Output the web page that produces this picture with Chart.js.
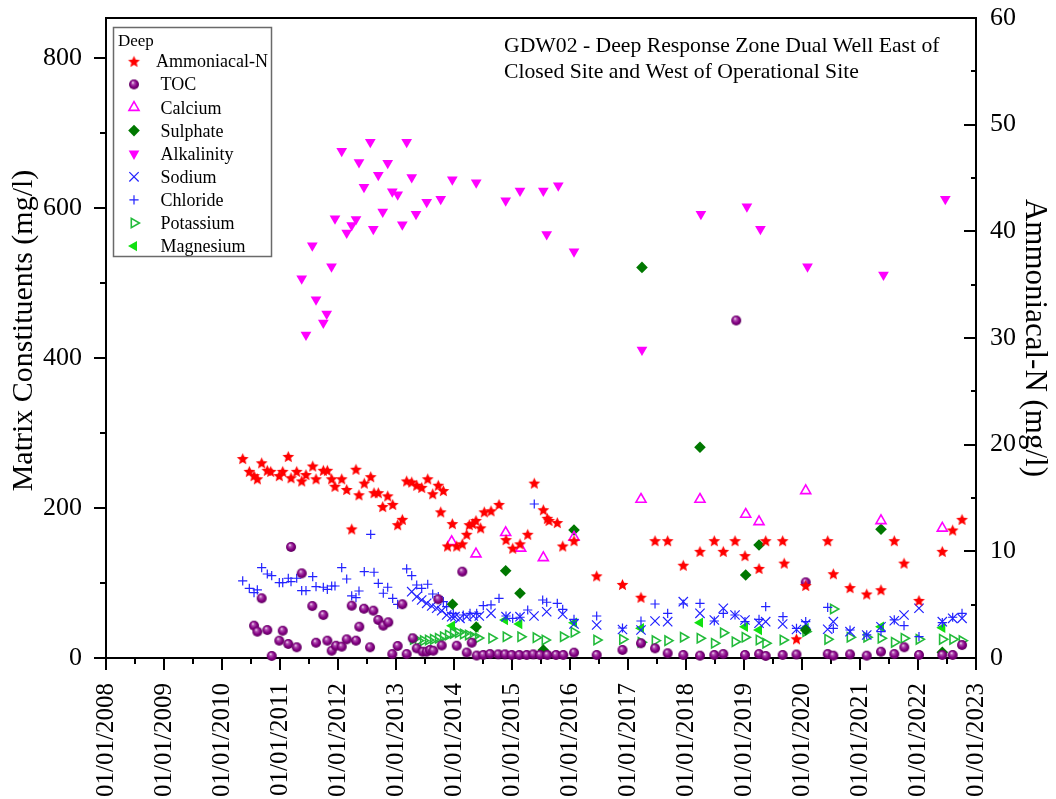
<!DOCTYPE html>
<html>
<head>
<meta charset="utf-8">
<script src="https://cdn.jsdelivr.net/npm/chart.js@4.4.1/dist/chart.umd.min.js"></script>
<style>
  html, body { margin: 0; padding: 0; background: #fff; }
  canvas { display: block; }
</style>
</head>
<body>
<canvas id="chart" width="1056" height="799"></canvas>
<script>
const SERIF = "'Liberation Serif', 'Times New Roman', Times, serif";

// Sampling dates are decimal years; concentrations in mg/l.
const ammoniaDates = [
  2010.357, 2010.471, 2010.552, 2010.609, 2010.684, 2010.781, 2010.840, 2010.988, 2011.047, 2011.143,
  2011.190, 2011.288, 2011.374, 2011.448, 2011.564, 2011.621, 2011.747, 2011.816, 2011.891, 2011.948,
  2012.064, 2012.150, 2012.236, 2012.310, 2012.362, 2012.453, 2012.564, 2012.621, 2012.695, 2012.771,
  2012.857, 2012.943, 2013.029, 2013.109, 2013.184, 2013.271, 2013.357, 2013.443, 2013.547, 2013.633,
  2013.729, 2013.771, 2013.816, 2013.888, 2013.971, 2014.047, 2014.143, 2014.219, 2014.264, 2014.322,
  2014.379, 2014.460, 2014.522, 2014.638, 2014.776, 2014.897, 2015.012, 2015.138, 2015.271, 2015.384,
  2015.540, 2015.609, 2015.638, 2015.781, 2015.874, 2016.069, 2016.460, 2016.905, 2017.224, 2017.466,
  2017.684, 2017.953, 2018.241, 2018.488, 2018.643, 2018.845, 2019.017, 2019.259, 2019.374, 2019.667,
  2019.693, 2019.905, 2020.064, 2020.443, 2020.540, 2020.828, 2021.116, 2021.362, 2021.591, 2021.759,
  2022.017, 2022.419, 2022.598, 2022.759
];
const ammoniaValues = [
  18.7, 17.5, 17.1, 16.8, 18.3, 17.6, 17.5, 17.1, 17.5, 18.9,
  16.9, 17.5, 16.6, 17.2, 18.0, 16.8, 17.6, 17.6, 16.8, 16.1,
  16.8, 15.8, 12.1, 17.7, 15.3, 16.4, 17.0, 15.5, 15.5, 14.2,
  15.2, 14.4, 12.5, 13.0, 16.6, 16.5, 16.2, 16.0, 16.8, 15.4,
  16.2, 13.7, 15.7, 10.5, 12.6, 10.5, 10.7, 11.6, 12.5, 12.6,
  12.9, 12.2, 13.7, 13.8, 14.4, 11.1, 10.3, 10.7, 11.6, 16.4,
  13.9, 13.1, 12.9, 12.7, 10.5, 11.0, 7.7, 6.9, 5.7, 11.0,
  11.0, 8.7, 10.0, 11.0, 10.0, 11.0, 9.6, 8.4, 11.0, 11.0,
  8.9, 1.8, 6.8, 11.0, 7.9, 6.6, 6.0, 6.4, 11.0, 8.9,
  5.4, 10.0, 12.0, 13.0
];

const tocDates = [
  2010.552, 2010.609, 2010.684, 2010.781, 2010.857, 2010.988, 2011.047, 2011.143, 2011.190, 2011.288,
  2011.374, 2011.557, 2011.621, 2011.747, 2011.816, 2011.891, 2011.966, 2012.064, 2012.150, 2012.236,
  2012.310, 2012.367, 2012.448, 2012.552, 2012.609, 2012.695, 2012.781, 2012.867, 2012.936, 2013.029,
  2013.109, 2013.184, 2013.288, 2013.357, 2013.460, 2013.529, 2013.586, 2013.643, 2013.729, 2013.788,
  2014.047, 2014.143, 2014.219, 2014.305, 2014.391, 2014.505, 2014.621, 2014.764, 2014.879, 2014.995,
  2015.126, 2015.253, 2015.367, 2015.483, 2015.609, 2015.759, 2015.884, 2016.069, 2016.460, 2016.905,
  2017.224, 2017.466, 2017.684, 2017.953, 2018.241, 2018.488, 2018.643, 2018.866, 2019.017, 2019.259,
  2019.374, 2019.667, 2019.905, 2020.064, 2020.443, 2020.540, 2020.828, 2021.116, 2021.362, 2021.591,
  2021.764, 2022.017, 2022.419, 2022.598, 2022.759
];
const tocValues = [
  43.1, 35.1, 79.6, 37.3, 2.7, 23.1, 36.4, 18.7, 148, 14.3,
  112.9, 69.3, 20.4, 57.3, 23.1, 9.7, 16.4, 15.1, 24.9, 69.7,
  23.1, 41.7, 65.7, 14.3, 63.1, 50.7, 43.1, 47.6, 5.3, 16.0,
  71.6, 5.3, 26.3, 12.9, 8.4, 8.4, 10.7, 9.7, 78.3, 16.7,
  16.4, 115.1, 7.3, 20.4, 3.3, 4.0, 5.3, 4.9, 4.9, 4.0,
  4.0, 4.0, 4.9, 4.0, 4.0, 4.0, 4.0, 7.1, 4.0, 10.7,
  19.6, 12.9, 6.3, 4.0, 3.1, 4.0, 5.3, 450, 4.0, 5.3,
  2.7, 4.0, 4.7, 100.9, 5.3, 3.1, 4.9, 3.1, 8.4, 5.3,
  14.3, 4.0, 4.0, 4.0, 17.3
];

const calciumDates = [
  2013.960, 2014.379, 2014.891, 2015.150, 2015.540, 2016.069, 2017.224, 2018.241, 2019.029, 2019.259,
  2020.064, 2021.362, 2022.419
];
const calciumValues = [
  155.1, 138.7, 167.1, 146.3, 133.7, 160.9, 211.6, 211.6, 191.6, 181.7,
  223, 183, 173
];

const sulphateDates = [
  2013.974, 2014.383, 2014.891, 2015.138, 2015.540, 2016.069, 2017.241, 2018.241, 2019.029, 2019.259,
  2020.064, 2021.362, 2022.419
];
const sulphateValues = [
  71.6, 41.3, 116.4, 86.3, 10.7, 170.7, 520.8, 280.9, 110.7, 150.7,
  37.3, 171.6, 7.6
];

const alkalinityDates = [
  2011.374, 2011.448, 2011.557, 2011.621, 2011.747, 2011.805, 2011.888, 2011.948, 2012.064, 2012.150,
  2012.236, 2012.310, 2012.362, 2012.448, 2012.557, 2012.609, 2012.695, 2012.771, 2012.857, 2012.936,
  2013.029, 2013.109, 2013.184, 2013.271, 2013.345, 2013.529, 2013.771, 2013.971, 2014.383, 2014.891,
  2015.138, 2015.540, 2015.598, 2015.798, 2016.069, 2017.241, 2018.257, 2019.050, 2019.283, 2020.095,
  2021.405, 2022.471
];
const alkalinityValues = [
  506, 431, 550, 478, 447, 459, 522, 586, 676, 567,
  577, 585, 661, 628, 688, 572, 644, 595, 660, 622,
  618, 578, 688, 641, 592, 608, 612, 638, 634, 610,
  623, 623, 565, 630, 542, 411, 592, 602, 572, 522,
  511, 612
];

const sodiumDates = [
  2013.271, 2013.357, 2013.443, 2013.529, 2013.616, 2013.702, 2013.788, 2013.874, 2013.960, 2014.017,
  2014.103, 2014.219, 2014.333, 2014.436, 2014.638, 2014.897, 2015.138, 2015.379, 2015.598, 2015.874,
  2016.069, 2016.460, 2016.905, 2017.224, 2017.466, 2017.684, 2017.953, 2018.241, 2018.488, 2018.643,
  2018.845, 2019.017, 2019.259, 2019.374, 2019.667, 2019.905, 2020.064, 2020.443, 2020.540, 2020.828,
  2021.116, 2021.362, 2021.591, 2021.759, 2022.017, 2022.419, 2022.598, 2022.759
];
const sodiumValues = [
  88.4, 81.7, 77.3, 72.9, 69.3, 66.3, 63.1, 57.3, 55.1, 55.1,
  52.9, 55.1, 56, 56, 59.6, 55.1, 55.1, 56, 61.7, 58.3,
  45.3, 44, 38, 37.3, 49.3, 48.4, 75.1, 59.6, 50.7, 66.3,
  57.3, 50.7, 46.3, 48.4, 45.3, 38, 45.3, 38.3, 48.4, 35.1,
  30.7, 41.7, 49.7, 57.3, 66.3, 48.4, 52.9, 52.9
];

const chlorideDates = [
  2010.357, 2010.471, 2010.552, 2010.609, 2010.684, 2010.781, 2010.857, 2010.988, 2011.047, 2011.143,
  2011.190, 2011.288, 2011.374, 2011.448, 2011.564, 2011.621, 2011.747, 2011.816, 2011.891, 2011.948,
  2012.064, 2012.150, 2012.236, 2012.310, 2012.362, 2012.453, 2012.564, 2012.621, 2012.695, 2012.781,
  2012.857, 2012.943, 2013.029, 2013.109, 2013.184, 2013.271, 2013.357, 2013.443, 2013.547, 2013.633,
  2013.729, 2013.816, 2013.874, 2013.988, 2014.160, 2014.276, 2014.391, 2014.505, 2014.638, 2014.776,
  2014.897, 2015.012, 2015.138, 2015.271, 2015.384, 2015.529, 2015.598, 2015.781, 2015.874, 2016.069,
  2016.460, 2016.905, 2017.224, 2017.466, 2017.684, 2017.953, 2018.241, 2018.488, 2018.643, 2018.845,
  2019.017, 2019.259, 2019.374, 2019.672, 2019.905, 2020.064, 2020.443, 2020.540, 2020.828, 2021.116,
  2021.362, 2021.591, 2021.759, 2022.017, 2022.419, 2022.598, 2022.759
];
const chlorideValues = [
  102.7, 92.9, 87.1, 90.7, 120.4, 112, 109.7, 100.4, 100.4, 106.3,
  101.7, 106.3, 89.7, 89.7, 108.4, 95.1, 94.3, 91.6, 96, 96,
  120.4, 105.3, 82.7, 80.4, 89.3, 115.1, 164.9, 114.3, 99.6, 86.3,
  94.3, 79.6, 71.6, 71.6, 118.7, 109.7, 97.3, 92.9, 98.3, 85.3,
  81.7, 75.1, 68.4, 59.6, 57.3, 59.6, 59.6, 69.7, 70.7, 79.6,
  56, 52.9, 54.3, 64, 205.3, 77.3, 74.3, 72.9, 64.9, 51.6,
  56, 40, 49.3, 72, 59.6, 72, 72.9, 49.3, 59.6, 57.3,
  48.4, 51.6, 68.4, 55.1, 39.6, 48.4, 67.6, 39.6, 37.3, 30.7,
  35.1, 50.7, 43.1, 28.4, 47.1, 54.3, 59.6
];

const potassiumDates = [
  2013.298, 2013.384, 2013.471, 2013.557, 2013.643, 2013.729, 2013.816, 2013.902, 2013.988, 2014.074,
  2014.160, 2014.247, 2014.333, 2014.419, 2014.650, 2014.897, 2015.150, 2015.414, 2015.569, 2015.884,
  2016.069, 2016.460, 2016.905, 2017.224, 2017.466, 2017.684, 2017.953, 2018.241, 2018.488, 2018.643,
  2018.845, 2019.017, 2019.259, 2019.374, 2019.672, 2020.064, 2020.443, 2020.540, 2020.828, 2021.116,
  2021.362, 2021.591, 2021.759, 2022.017, 2022.419, 2022.598, 2022.759
];
const potassiumValues = [
  24.9, 23.1, 23.1, 24, 24.9, 26.3, 28.4, 30.7, 32.9, 33.7,
  32, 30.7, 28.4, 26.7, 26.3, 28.4, 28.4, 27.1, 24, 28.4,
  34.3, 24, 24.9, 20.9, 23.1, 23.1, 27.6, 26.3, 19.6, 33.7,
  21.7, 27.6, 24, 19.6, 24, 35.1, 24.9, 65.3, 27.6, 27.6,
  26.3, 20.9, 26.3, 24.9, 24.9, 24.9, 23.1
];

const magnesiumDates = [
  2013.966, 2014.371, 2014.879, 2015.126, 2016.069, 2017.224, 2018.241, 2019.017, 2019.259, 2020.064,
  2021.362, 2022.419
];
const magnesiumValues = [
  43.1, 40.7, 50.7, 45.3, 47.1, 39.6, 47.1, 41.7, 37.3, 40,
  41.7, 40.4
];

// Axis ranges and tick labels
const tickYears = [2008, 2009, 2010, 2011, 2012, 2013, 2014, 2015, 2016, 2017, 2018, 2019, 2020, 2021, 2022, 2023];
const leftTicks = [0, 200, 400, 600, 800];
const rightTicks = [0, 10, 20, 30, 40, 50, 60];
const leftMax = 853.33;
const rightMax = 60;

const titleLines = [
  'GDW02 - Deep Response Zone Dual Well East of',
  'Closed Site and West of Operational Site'
];

function pts(dates, values) {
  const n = Math.min(dates.length, values.length);
  const out = [];
  for (let i = 0; i < n; i++) out.push({ x: dates[i], y: values[i] });
  return out;
}

// Filled five-point star marker
function makeStar(R, color) {
  const s = Math.ceil(2 * R + 2);
  const c = document.createElement('canvas');
  c.width = c.height = s;
  const g = c.getContext('2d');
  const cx = s / 2, cy = s / 2 + R * 0.1;
  const r = R * 0.45;
  g.beginPath();
  for (let k = 0; k < 10; k++) {
    const rad = (k % 2 === 0) ? R : r;
    const a = -Math.PI / 2 + k * Math.PI / 5;
    const px = cx + rad * Math.cos(a), py = cy + rad * Math.sin(a);
    if (k === 0) g.moveTo(px, py); else g.lineTo(px, py);
  }
  g.closePath();
  g.fillStyle = color;
  g.fill();
  return c;
}

// Shaded ball marker
function makeSphere(R) {
  const s = Math.ceil(2 * R + 2);
  const c = document.createElement('canvas');
  c.width = c.height = s;
  const g = c.getContext('2d');
  const cx = s / 2, cy = s / 2;
  const grad = g.createRadialGradient(cx - R * 0.25, cy - R * 0.4, R * 0.05, cx, cy, R);
  grad.addColorStop(0, '#f4dcf4');
  grad.addColorStop(0.25, '#b050b0');
  grad.addColorStop(0.65, '#850085');
  grad.addColorStop(1, '#5c005c');
  g.fillStyle = grad;
  g.beginPath();
  g.arc(cx, cy, R, 0, Math.PI * 2);
  g.fill();
  return c;
}

const starImg = makeStar(6.2, '#ff0000');
const sphereImg = makeSphere(5);

const CLEAR = 'rgba(255,255,255,0)';

const datasets = [
  { label: 'Ammoniacal-N', data: pts(ammoniaDates, ammoniaValues), yAxisID: 'y2',
    pointStyle: starImg, pointRadius: 6, pointBackgroundColor: '#ff0000', pointBorderColor: '#ff0000', pointBorderWidth: 0 },
  { label: 'TOC', data: pts(tocDates, tocValues), yAxisID: 'y',
    pointStyle: sphereImg, pointRadius: 5, pointBackgroundColor: '#800080', pointBorderColor: '#800080', pointBorderWidth: 0 },
  { label: 'Calcium', data: pts(calciumDates, calciumValues), yAxisID: 'y',
    pointStyle: 'triangle', pointRadius: 5.8, pointBackgroundColor: CLEAR, pointBorderColor: '#ff00ff', pointBorderWidth: 1.6 },
  { label: 'Sulphate', data: pts(sulphateDates, sulphateValues), yAxisID: 'y',
    pointStyle: 'rectRot', pointRadius: 5.8, pointBackgroundColor: '#007800', pointBorderColor: '#007800', pointBorderWidth: 0 },
  { label: 'Alkalinity', data: pts(alkalinityDates, alkalinityValues), yAxisID: 'y',
    pointStyle: 'triangle', pointRotation: 180, pointRadius: 6.2, pointBackgroundColor: '#ff00ff', pointBorderColor: '#ff00ff', pointBorderWidth: 0 },
  { label: 'Sodium', data: pts(sodiumDates, sodiumValues), yAxisID: 'y',
    pointStyle: 'crossRot', pointRadius: 6.6, pointBackgroundColor: CLEAR, pointBorderColor: '#2222ff', pointBorderWidth: 1.2 },
  { label: 'Chloride', data: pts(chlorideDates, chlorideValues), yAxisID: 'y',
    pointStyle: 'cross', pointRadius: 4.6, pointBackgroundColor: CLEAR, pointBorderColor: '#2222ff', pointBorderWidth: 1.2 },
  { label: 'Potassium', data: pts(potassiumDates, potassiumValues), yAxisID: 'y',
    pointStyle: 'triangle', pointRotation: 90, pointRadius: 5.4, pointBackgroundColor: CLEAR, pointBorderColor: '#22bb3a', pointBorderWidth: 1.6 },
  { label: 'Magnesium', data: pts(magnesiumDates, magnesiumValues), yAxisID: 'y',
    pointStyle: 'triangle', pointRotation: -90, pointRadius: 6, pointBackgroundColor: '#11e011', pointBorderColor: '#11e011', pointBorderWidth: 0 }
];
datasets.forEach(d => { d.clip = false; d.pointHoverRadius = d.pointRadius; });

// Axis frame with outward ticks on left/bottom and inward ticks on the right
const frameTicks = {
  id: 'frameTicks',
  beforeDatasetsDraw(chart) {
    const { ctx, chartArea: a, scales } = chart;
    ctx.save();
    ctx.strokeStyle = '#000';
    ctx.lineWidth = 2;
    ctx.lineCap = 'butt';
    ctx.beginPath();
    ctx.moveTo(a.left, a.top); ctx.lineTo(a.right, a.top);
    ctx.moveTo(a.left, a.top - 1); ctx.lineTo(a.left, a.bottom + 1);
    ctx.moveTo(a.right, a.top - 1); ctx.lineTo(a.right, a.bottom + 1);
    ctx.moveTo(a.left - 1, a.bottom); ctx.lineTo(a.right + 1, a.bottom);
    for (let v = 0; v <= 800; v += 100) {
      const y = Math.round(scales.y.getPixelForValue(v));
      const len = v % 200 === 0 ? 12 : 6;
      ctx.moveTo(a.left - len, y); ctx.lineTo(a.left, y);
    }
    for (let v = 0; v <= rightMax; v += 5) {
      const y = Math.round(scales.y2.getPixelForValue(v));
      const len = v % 10 === 0 ? 12 : 5;
      ctx.moveTo(a.right - len, y); ctx.lineTo(a.right, y);
    }
    for (let t = tickYears[0]; t <= tickYears[tickYears.length - 1] + 1e-9; t += 0.5) {
      const x = Math.round(scales.x.getPixelForValue(t));
      const len = Number.isInteger(t) ? 12 : 6;
      ctx.moveTo(x, a.bottom); ctx.lineTo(x, a.bottom + len);
    }
    ctx.stroke();
    ctx.restore();
  }
};

function drawMarker(ctx, ds, x, y) {
  const style = ds.pointStyle;
  if (style instanceof HTMLCanvasElement) {
    ctx.drawImage(style, x - style.width / 2, y - style.height / 2);
    return;
  }
  ctx.save();
  ctx.fillStyle = ds.pointBackgroundColor;
  ctx.strokeStyle = ds.pointBorderColor;
  ctx.lineWidth = ds.pointBorderWidth;
  Chart.helpers.drawPoint(ctx, {
    pointStyle: style, radius: ds.pointRadius, rotation: ds.pointRotation || 0, borderWidth: ds.pointBorderWidth
  }, x, y);
  ctx.restore();
}

// Boxed legend and caption inside the plot
const annotations = {
  id: 'annotations',
  afterDraw(chart) {
    const ctx = chart.ctx;
    ctx.save();
    // legend
    ctx.fillStyle = '#fff';
    ctx.fillRect(113, 27, 158, 229);
    ctx.strokeStyle = '#6a6a6a';
    ctx.lineWidth = 1.5;
    ctx.strokeRect(113.5, 27.5, 158, 229);
    ctx.fillStyle = '#000';
    ctx.textBaseline = 'alphabetic';
    ctx.textAlign = 'left';
    ctx.font = `17px ${SERIF}`;
    ctx.fillText('Deep', 118, 45.5);
    chart.data.datasets.forEach((ds, i) => {
      const y = 61.3 + i * 23.1;
      drawMarker(ctx, ds, 134, y);
      ctx.fillStyle = '#000';
      ctx.font = `18px ${SERIF}`;
      ctx.fillText(ds.label, i === 0 ? 156 : 160.5, y + 6);
    });
    // caption
    ctx.font = `21.7px ${SERIF}`;
    titleLines.forEach((line, i) => ctx.fillText(line, 504, 52 + i * 25.5));
    ctx.restore();
  }
};

// Keep the plot rectangle fixed: no extra label overhang padding from the scales
function noOverhang(s) {
  s.paddingTop = 0; s.paddingBottom = 0; s.paddingLeft = 0; s.paddingRight = 0;
}

new Chart(document.getElementById('chart'), {
  type: 'scatter',
  data: { datasets },
  options: {
    responsive: false,
    animation: false,
    devicePixelRatio: 1,
    events: [],
    layout: { padding: { top: 18, left: 0, right: 0, bottom: 0 } },
    plugins: { legend: { display: false }, tooltip: { enabled: false } },
    scales: {
      x: {
        type: 'linear', position: 'bottom',
        min: tickYears[0], max: tickYears[tickYears.length - 1],
        afterFit: s => { s.height = 141; noOverhang(s); },
        afterBuildTicks: s => { s.ticks = tickYears.map(v => ({ value: v })); },
        grid: { display: false, drawTicks: false },
        border: { display: false },
        ticks: {
          autoSkip: false, minRotation: 90, maxRotation: 90, padding: 25,
          color: '#000', font: { family: SERIF, size: 25 },
          callback: v => '01/01/' + Math.round(v)
        }
      },
      y: {
        type: 'linear', position: 'left',
        min: 0, max: leftMax,
        afterFit: s => { s.width = 106; noOverhang(s); },
        afterBuildTicks: s => { s.ticks = leftTicks.map(v => ({ value: v })); },
        grid: { display: false, drawTicks: false },
        border: { display: false },
        ticks: { padding: 24, color: '#000', font: { family: SERIF, size: 26 } },
        title: {
          display: true, text: '  Matrix Constituents (mg/l)', color: '#000',
          font: { family: SERIF, size: 30 }, padding: { top: 6, bottom: 0 }
        }
      },
      y2: {
        type: 'linear', position: 'right',
        min: 0, max: rightMax,
        afterFit: s => { s.width = 80; noOverhang(s); },
        afterBuildTicks: s => { s.ticks = rightTicks.map(v => ({ value: v })); },
        grid: { display: false, drawTicks: false },
        border: { display: false },
        ticks: { padding: 14, color: '#000', font: { family: SERIF, size: 26 } },
        title: {
          display: true, text: 'Ammoniacal-N (mg/l)', color: '#000',
          font: { family: SERIF, size: 31 }, padding: { top: 3, bottom: 0 }
        }
      }
    }
  },
  plugins: [frameTicks, annotations]
});
</script>
</body>
</html>
